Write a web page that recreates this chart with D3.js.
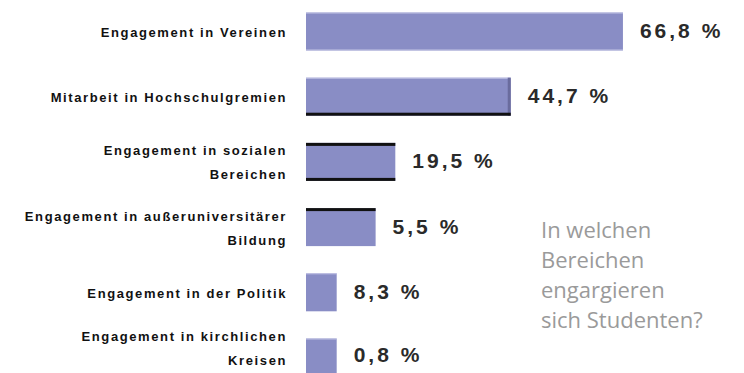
<!DOCTYPE html>
<html><head><meta charset="utf-8">
<script src="https://cdn.jsdelivr.net/npm/d3@7"></script>
<style>body{margin:0;background:#fff}svg{display:block}</style>
</head><body>
<svg id="c" width="744" height="373"></svg>
<script>
const categories = [
  ["Engagement in Vereinen"],
  ["Mitarbeit in Hochschulgremien"],
  ["Engagement in sozialen", "Bereichen"],
  ["Engagement in außeruniversitärer", "Bildung"],
  ["Engagement in der Politik"],
  ["Engagement in kirchlichen", "Kreisen"]
];
const values = [69.2, 44.7, 19.5, 15.2, 6.7, 6.7];
const valueLabels = ["66,8 %", "44,7 %", "19,5 %", "5,5 %", "8,3 %", "0,8 %"];
const titleLines = ["In welchen", "Bereichen", "engargieren", "sich Studenten?"];

const svg = d3.select("#c");
const ids = categories.map((c, i) => i);
const x = d3.scaleLinear().domain([0, 100]).range([306, 764]);
const y = d3.scaleBand().domain(ids).range([12.5, 376.5]).paddingInner(0.417).paddingOuter(0);
const bw = y.bandwidth();

const g = svg.append("g");
g.selectAll("rect.bar").data(values).join("rect")
  .attr("class", "bar")
  .attr("x", x(0)).attr("y", (d, i) => y(i))
  .attr("width", d => x(d) - x(0)).attr("height", bw)
  .attr("fill", "#898dc5");

g.selectAll("rect.hl").data(values).join("rect")
  .attr("x", x(0)).attr("y", (d, i) => y(i))
  .attr("width", d => x(d) - x(0)).attr("height", 1)
  .attr("fill", "#c4c6e6");
const edge = (i, where, color, th) => {
  const v = values[i];
  if (where === "bottom") g.append("rect").attr("x", x(0)).attr("y", y(i) + bw - th).attr("width", x(v) - x(0)).attr("height", th).attr("fill", color);
  if (where === "top") g.append("rect").attr("x", x(0)).attr("y", y(i)).attr("width", x(v) - x(0)).attr("height", th).attr("fill", color);
  if (where === "right") g.append("rect").attr("x", x(v) - th).attr("y", y(i)).attr("width", th).attr("height", bw).attr("fill", color);
};
edge(0, "bottom", "#c4c6e6", 1);
edge(1, "right", "#6a6c9e", 3);
edge(1, "bottom", "#111", 3);
edge(2, "top", "#111", 3);
edge(2, "bottom", "#111", 3);
edge(3, "top", "#111", 3);

g.selectAll("text.val").data(values).join("text")
  .attr("class", "val")
  .attr("x", d => x(d) + 17)
  .attr("y", (d, i) => Math.min(y(i) + bw / 2 + 1, 356))
  .attr("dominant-baseline", "middle")
  .attr("font-family", "Liberation Sans, Arial, sans-serif")
  .attr("font-size", 21)
  .attr("font-weight", "bold")
  .attr("letter-spacing", 3)
  .attr("fill", "#2a2a2a")
  .text((d, i) => valueLabels[i]);

categories.forEach((lines, i) => {
  const cy = Math.min(y(i) + bw / 2 + 2, 350);
  const lh = lines.length > 1 ? 24 : 0;
  const t = g.append("text")
    .attr("text-anchor", "end")
    .attr("font-family", "Liberation Sans, Arial, sans-serif")
    .attr("font-size", 13)
    .attr("font-weight", "bold")
    .attr("letter-spacing", 1.6)
    .attr("fill", "#111");
  lines.forEach((l, k) => {
    t.append("tspan").attr("x", 287)
      .attr("y", cy - lh / 2 + k * lh)
      .attr("dominant-baseline", "middle")
      .text(l);
  });
});

const tt = svg.append("text")
  .attr("font-family", "Open Sans, sans-serif")
  .attr("font-size", 22)
  .attr("fill", "#9a9a9a");
titleLines.forEach((l, k) => {
  tt.append("tspan").attr("x", 541).attr("y", 238 + k * 30).text(l);
});
</script>
</body></html>
